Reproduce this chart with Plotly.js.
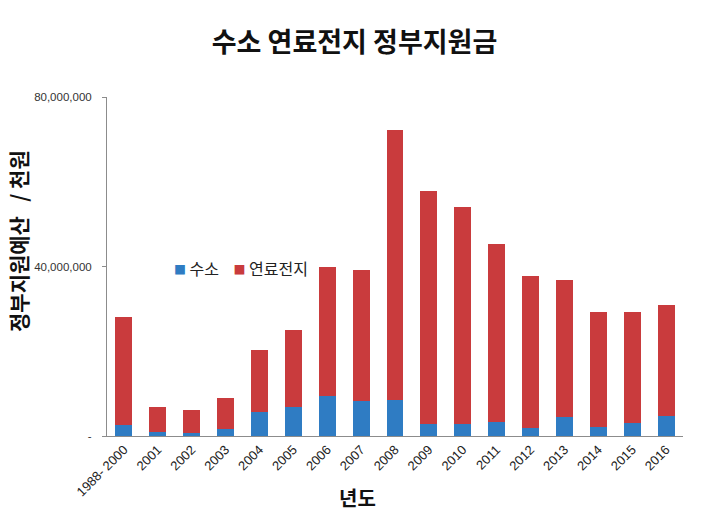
<!DOCTYPE html>
<html><head><meta charset="utf-8">
<script src="https://cdn.plot.ly/plotly-3.0.1.min.js"></script>
<style>html,body{margin:0;padding:0;background:#fff;}#chart{width:709px;height:527px;}</style>
</head><body><div id="chart"></div>
<script>
const years = ["1988- 2000","2001","2002","2003","2004","2005","2006","2007","2008","2009","2010","2011","2012","2013","2014","2015","2016"];
const hydrogen = [2.6,1.0,0.8,1.6,5.6,6.8,9.4,8.3,8.4,2.8,2.8,3.2,1.8,4.5,2.1,3.1,4.8].map(v=>v*1e6);
const totals = [28.1,6.8,6.2,9.0,20.2,25.1,40.0,39.2,72.2,57.8,54.0,45.2,37.7,36.7,29.3,29.3,30.9].map(v=>v*1e6);
const fuelCell = totals.map((t,i)=>t-hydrogen[i]);
const seriesNames = ['수소','연료전지'];
const seriesColors = ['#2f7cc3','#c93b3d'];
const yTickVals = [0,40000000,80000000];
const yTickText = ["-","40,000,000","80,000,000"];

const KR = "'Noto Sans CJK KR', 'Noto Sans', sans-serif";
const NUM = "'Liberation Sans', Arial, sans-serif";

const legendText = seriesNames.map((n,i)=>`<span style="color:${seriesColors[i]};font-size:12px">■</span> ${n}`).join('&nbsp;&nbsp;&nbsp;&nbsp;');

Plotly.newPlot('chart',[
  {type:'bar',name:seriesNames[0],x:years,y:hydrogen,marker:{color:seriesColors[0]}},
  {type:'bar',name:seriesNames[1],x:years,y:fuelCell,marker:{color:seriesColors[1]}}
],{
  width:709,height:527,
  barmode:'stack',bargap:0.5,
  margin:{l:107,r:26,t:97,b:91},
  paper_bgcolor:'#fff',plot_bgcolor:'rgba(0,0,0,0)',
  title:{text:'수소 연료전지 정부지원금',font:{family:KR,size:27,color:'#111',weight:'bold'},x:0.5,xanchor:'center',y:0.92,yanchor:'middle'},
  showlegend:false,
  xaxis:{type:'category',tickangle:-45,tickfont:{family:NUM,size:13,color:'#222'},showline:true,linecolor:'#8c8c8c',linewidth:1,ticks:'',showgrid:false},
  yaxis:{range:[0,80000000],tickvals:yTickVals,ticktext:yTickText,tickfont:{family:NUM,size:11.5,color:'#333'},showline:true,linecolor:'#8c8c8c',linewidth:1,ticks:'outside',ticklen:4,tickcolor:'#8c8c8c',showgrid:false,zeroline:false,ticklabelstandoff:8},
  annotations:[
    {text:legendText,xref:'paper',yref:'paper',x:(172-107)/576,y:(436-268)/339,xanchor:'left',yanchor:'middle',showarrow:false,font:{family:KR,size:16,color:'#222'}},
    {text:'년도',xref:'paper',yref:'paper',x:(357-107)/576,y:-(497-436)/339,xanchor:'center',yanchor:'middle',showarrow:false,font:{family:KR,size:20,color:'#111',weight:'bold'}},
    {text:'정부지원예산   / 천원',xref:'paper',yref:'paper',x:-(107-18)/576,y:(436-241)/339,xanchor:'center',yanchor:'middle',textangle:-90,showarrow:false,font:{family:KR,size:21,color:'#111',weight:'bold'}}
  ]
},{displayModeBar:false,staticPlot:true});
</script></body></html>
